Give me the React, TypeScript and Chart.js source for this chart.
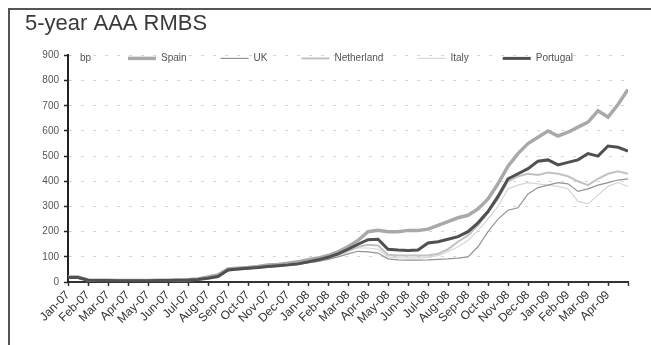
import React, { useEffect, useRef } from "react";
import { Chart, registerables } from "chart.js";

Chart.register(...registerables);

// Month labels on the x axis (one tick per month start)
const monthLabels = [
  "Jan-07", "Feb-07", "Mar-07", "Apr-07", "May-07", "Jun-07", "Jul-07", "Aug-07",
  "Sep-07", "Oct-07", "Nov-07", "Dec-07", "Jan-08", "Feb-08", "Mar-08", "Apr-08",
  "May-08", "Jun-08", "Jul-08", "Aug-08", "Sep-08", "Oct-08", "Nov-08", "Dec-08",
  "Jan-09", "Feb-09", "Mar-09", "Apr-09",
];

// Spreads in bp, sampled twice a month from Jan-07 to May-09
const spain = [
  20, 20, 8, 7, 7, 6, 6, 6, 6, 7, 7, 8, 9, 12, 20, 28,
  52, 55, 58, 62, 68, 70, 75, 80, 88, 95, 105, 120, 140, 165,
  200, 205, 200, 200, 205, 205, 210, 225, 240, 255, 265, 290,
  330, 390, 460, 510, 550, 575, 600, 580, 595, 615, 635, 680, 655, 705, 765,
];
const uk = [
  18, 18, 7, 6, 6, 5, 5, 5, 5, 6, 6, 7, 8, 10, 16, 22,
  45, 50, 52, 56, 60, 62, 66, 70, 76, 82, 90, 100, 112, 122,
  120, 115, 92, 88, 87, 87, 88, 90, 92, 95, 100, 140,
  200, 250, 285, 295, 350, 375, 385, 395, 390, 360, 370, 385, 395, 405, 410,
];
const netherland = [
  17, 17, 6, 6, 5, 5, 5, 5, 5, 5, 6, 7, 8, 10, 15, 22,
  48, 50, 54, 58, 62, 64, 68, 72, 80, 85, 95, 108, 125, 140,
  148, 145, 108, 105, 105, 105, 105, 112, 130, 160, 185, 225,
  275, 330, 400, 420, 430, 425, 435, 430, 420, 400, 385, 410, 430, 440, 430,
];
const italy = [
  16, 16, 6, 5, 5, 5, 4, 4, 5, 5, 6, 7, 8, 9, 14, 20,
  44, 48, 52, 55, 58, 62, 65, 68, 78, 82, 92, 105, 120, 135,
  135, 130, 100, 97, 96, 96, 98, 105, 120, 140, 165, 205,
  250, 300, 370, 385, 395, 390, 385, 380, 370, 320, 310, 345, 380, 395, 380,
];
const portugal = [
  18, 18, 7, 6, 6, 5, 5, 5, 5, 6, 6, 7, 8, 10, 15, 22,
  48, 52, 55, 58, 62, 65, 68, 72, 80, 88, 98, 112, 130, 150,
  168, 170, 130, 127, 125, 127, 155, 160, 170, 180, 200, 235,
  280, 340, 410, 430, 450, 480, 485, 465, 475, 485, 510, 500, 540, 535, 520,
];

const yMax = 900;
const yStep = 100;

const FONT = "'Liberation Sans', Arial, sans-serif";

// sample i sits half a month after sample i - 1
const toPoints = (vals: number[]) => vals.map((v, i) => ({ x: i / 2, y: v }));

// Unit label and a one-row legend drawn inside the plot area
const inlineLegend = {
  id: "inlineLegend",
  afterDraw(chart: any) {
    const { ctx, chartArea } = chart;
    ctx.save();
    ctx.font = `10px ${FONT}`;
    ctx.textBaseline = "middle";
    ctx.fillStyle = "#555";
    const y = chartArea.top + 3;
    ctx.fillText("bp", chartArea.left + 12, y);
    let x = chartArea.left + 60;
    chart.data.datasets.forEach((ds: any) => {
      ctx.strokeStyle = ds.borderColor;
      ctx.lineWidth = ds.borderWidth;
      ctx.beginPath();
      ctx.moveTo(x, y);
      ctx.lineTo(x + 28, y);
      ctx.stroke();
      x += 33;
      ctx.fillStyle = "#555";
      ctx.fillText(ds.label, x, y);
      x += ctx.measureText(ds.label).width + 34;
    });
    ctx.restore();
  },
};

export default function App() {
  const canvasRef = useRef<HTMLCanvasElement | null>(null);

  useEffect(() => {
    document.body.style.overflow = "hidden";
    const canvas = canvasRef.current;
    if (!canvas) return;
    const line = (label: string, vals: number[], color: string, width: number, order: number) => ({
      label,
      data: toPoints(vals),
      borderColor: color,
      backgroundColor: color,
      borderWidth: width,
      pointRadius: 0,
      tension: 0,
      fill: false,
      order,
    });
    const chart = new Chart(canvas, {
      type: "line",
      data: {
        datasets: [
          line("Spain", spain, "#a9a9a9", 3.5, 1),
          line("UK", uk, "#949494", 1.2, 2),
          line("Netherland", netherland, "#c2c2c2", 2, 3),
          line("Italy", italy, "#d6d6d6", 1.2, 4),
          line("Portugal", portugal, "#505050", 3, 0),
        ],
      },
      options: {
        animation: false,
        responsive: false,
        maintainAspectRatio: false,
        layout: { padding: { left: 15, right: 23, top: 0, bottom: 8 } },
        plugins: {
          legend: { display: false },
          tooltip: { enabled: false },
          title: {
            display: true,
            text: "5-year AAA RMBS",
            align: "start",
            color: "#3a3a3a",
            font: { family: FONT, size: 22, weight: "normal" },
            padding: { top: 1, bottom: 18 },
          },
        },
        scales: {
          x: {
            type: "linear",
            min: 0,
            max: monthLabels.length,
            afterFit: (s: any) => {
              s.height = 55;
            },
            ticks: {
              stepSize: 1,
              autoSkip: false,
              minRotation: 45,
              maxRotation: 45,
              padding: 2,
              color: "#333",
              font: { family: FONT, size: 12 },
              callback: (v: any) => monthLabels[v] ?? "",
            },
            grid: {
              drawOnChartArea: false,
              drawTicks: true,
              tickLength: 4,
              tickColor: "#333",
              tickWidth: 1.5,
            },
            border: { color: "#333", width: 2 },
          },
          y: {
            min: 0,
            max: yMax,
            afterFit: (s: any) => {
              s.width = 43;
            },
            ticks: {
              stepSize: yStep,
              padding: 5,
              color: "#555",
              font: { family: FONT, size: 10 },
            },
            grid: {
              color: "#d4d4d4",
              tickBorderDash: [],
              tickColor: "#222",
              tickLength: 4,
              tickWidth: 1.5,
            },
            border: { color: "#222", width: 2, dash: [3, 9] },
          },
        },
      },
      plugins: [inlineLegend],
    });
    return () => chart.destroy();
  }, []);

  return (
    <div
      style={{
        position: "fixed",
        left: 8,
        top: 8,
        width: 643,
        height: 337,
        borderTop: "2px solid #555",
        borderLeft: "2px solid #555",
        background: "#fff",
        boxSizing: "border-box",
      }}
    >
      <canvas ref={canvasRef} width={641} height={335} style={{ display: "block" }} />
    </div>
  );
}
